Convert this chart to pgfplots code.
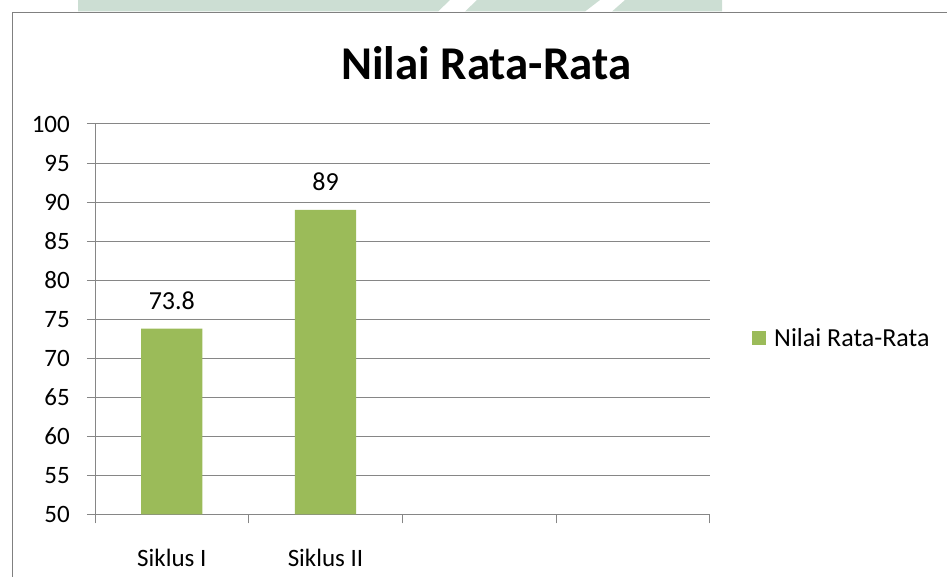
\documentclass[border=0pt]{standalone}
\usepackage{pgfplots}
\pgfplotsset{compat=1.18}
\usepackage{fontspec}
\setmainfont{Carlito}
\definecolor{barcolor}{HTML}{9BBB59}
\definecolor{gridgray}{HTML}{868686}
\definecolor{bordergray}{HTML}{808080}
\definecolor{wm}{HTML}{CCDED3}
\begin{document}
\begin{tikzpicture}[x=1pt,y=1pt]
\path[use as bounding box] (0,0) rectangle (947,577);
% background watermark band
\fill[wm] (78,565.5) -- (438,565.5) -- (450,577) -- (78,577) -- cycle;
\fill[wm] (465,565.5) -- (585,565.5) -- (600,577) -- (477,577) -- cycle;
\fill[wm] (612,565.5) -- (722,565.5) -- (722,577) -- (625,577) -- cycle;
% chart border
\draw[bordergray, line width=1.5pt] (12.5,0) -- (12.5,564.5) -- (947,564.5);
% title
\node[anchor=base, inner sep=0pt, font=\fontsize{47}{52}\selectfont\bfseries] at (486.2,497) {Nilai Rata-Rata};
\begin{axis}[
  scale only axis,
  width=614.7pt, height=390.3pt,
  at={(95pt,62.7pt)}, anchor=south west,
  xmin=-0.5, xmax=3.5, ymin=50, ymax=100,
  ybar,
  ytick={50,55,...,100},
  xtick={0,1,2,3},
  xticklabels={Siklus I,Siklus II,{},{}},
  minor xtick={-0.5,0.5,1.5,2.5,3.5},
  axis x line*=bottom, axis y line*=left,
  axis line style={-, draw=gridgray, line width=1pt},
  ymajorgrids,
  grid style={draw=gridgray, line width=1pt},
  tick align=outside,
  major tick length=8pt, minor tick length=9pt,
  tick style={draw=gridgray, line width=1pt},
  major x tick style={draw=none},
  /pgf/number format/assume math mode=true,
  tick label style={font=\fontsize{25}{30}\selectfont},
  yticklabel style={anchor=east, inner sep=0pt, xshift=-17pt},
  xticklabel style={anchor=base, inner sep=0pt, yshift=-44pt},
  legend style={draw=none, fill=none, at={(1,0.451)}, anchor=west, xshift=42.3pt,
    inner sep=0pt, column sep=6pt, font=\fontsize{26}{30}\selectfont},
  legend cell align=left,
]
\addplot[fill=barcolor, draw=none, bar width=61.3pt,
  nodes near coords,
  every node near coord/.append style={anchor=base, yshift=19pt, inner sep=0pt,
    font=\fontsize{26}{30}\selectfont, text=black},
  legend image code/.code={\fill[barcolor] (0pt,-7pt) rectangle (14pt,7pt);}
] coordinates {(0,73.8) (1,89)};
\addlegendentry{Nilai Rata-Rata}
\end{axis}
\end{tikzpicture}
\end{document}
